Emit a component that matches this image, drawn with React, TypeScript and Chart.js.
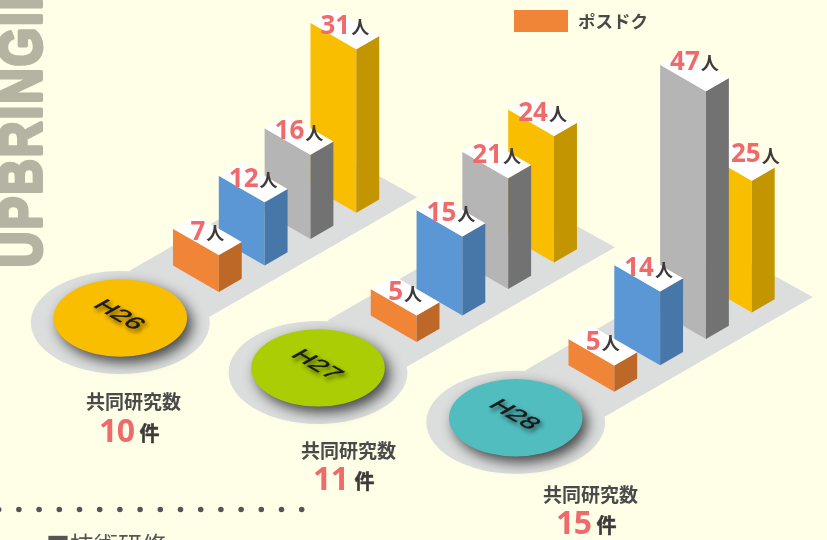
import React, { useEffect, useRef } from "react";
import { Chart, BarController, BarElement, CategoryScale, LinearScale } from "chart.js";

const years = ["H26", "H27", "H28"];
const postdocValues = [7, 5, 5];
const blueValues = [12, 15, 14];
const grayValues = [16, 21, 47];
const yellowValues = [31, 24, 25];
const jointResearchCounts = [10, 11, 15];
const legendLabel = "ポスドク";
const countCaption = "共同研究数";
const countUnit = "件";
const valueUnit = "人";
const watermark = "UPBRINGING";
const footerHeading = "■技術研修";

const BG = "#FFFEE6";
const PLATFORM = "#DCDDDD";
const PINK = "#EF6B6B";
const DARK = "#3E3A39";
const CJK = '"Noto Sans CJK JP", sans-serif';
const LATIN = '"Noto Sans", sans-serif';

const frontColors = ["#F08437", "#5B97D5", "#B4B5B4", "#FABE00"];
const sideColors = ["#BE6828", "#4677A8", "#727272", "#C39500"];
const diskColors = ["#FABE00", "#ABCD03", "#51BDBF"];

const GROUP_DY = 49.9;
const SERIES_DY = 26.45;

// Each year's strip sits lower on the page and each series further back along it.
const groundShift = (datasetIndex: number, dataIndex: number) =>
  GROUP_DY * dataIndex - SERIES_DY * datasetIndex;

class PrismElement extends BarElement {
  static id = "prism";
  draw(ctx: CanvasRenderingContext2D) {
    const self = this as any;
    const { x, y, base, width } = self.getProps(["x", "y", "base", "width"]);
    const shift = groundShift(self.seriesIndex, self.groupIndex);
    const top = y + shift;
    const bottom = base + shift;
    const w = width;
    const r = width / 2;
    const dl = w * 0.5774;
    const dr = r * 0.5774;
    const opts = self.options;
    const poly = (pts: number[][], fill: string) => {
      ctx.beginPath();
      pts.forEach((p, i) => (i ? ctx.lineTo(p[0], p[1]) : ctx.moveTo(p[0], p[1])));
      ctx.closePath();
      ctx.fillStyle = fill;
      ctx.fill();
    };
    ctx.save();
    poly([[x - w, top - dl], [x, top], [x, bottom], [x - w, bottom - dl]], opts.backgroundColor);
    poly([[x, top], [x + r, top - dr], [x + r, bottom - dr], [x, bottom]], opts.borderColor);
    poly([[x, top], [x - w, top - dl], [x - w + r, top - dl - dr], [x + r, top - dr]], "#FFFFFF");
    ctx.restore();
  }
}

class PrismController extends BarController {
  static id = "prism";
  static defaults = { ...(BarController as any).defaults, dataElementType: "prism" };
  updateElements(bars: any[], start: number, count: number, mode: any) {
    (BarController.prototype as any).updateElements.call(this, bars, start, count, mode);
    for (let i = start; i < start + count; i++) {
      bars[i].groupIndex = i;
      bars[i].seriesIndex = (this as any).index;
    }
  }
}

Chart.register(CategoryScale, LinearScale, BarElement, BarController, PrismElement as any, PrismController as any);

const nudgeFor = (ds: number, idx: number) => {
  if (ds === 3 && idx === 2) return [15, -3];
  if (ds === 2 && idx === 2) return [0, -6];
  return [0, 0];
};

const countLayout = [
  { headX: 86, headY: 409, numX: 99, numY: 441.5, unitX: 140, unitY: 441 },
  { headX: 301, headY: 458, numX: 313, numY: 490, unitX: 355, unitY: 489 },
  { headX: 543, headY: 502, numX: 556, numY: 534, unitX: 597, unitY: 533 },
];

const scenery = {
  id: "scenery",
  beforeDatasetsDraw(chart: any) {
    const { ctx, scales } = chart;
    const base = scales.y.getPixelForValue(0);
    ctx.save();

    // rotated watermark
    ctx.save();
    ctx.translate(41, 268);
    ctx.rotate(-Math.PI / 2);
    ctx.scale(0.82, 1);
    ctx.font = '700 60px "Liberation Sans", sans-serif';
    ctx.letterSpacing = "2.5px";
    ctx.fillStyle = "#B5B4A2";
    ctx.strokeStyle = "#B5B4A2";
    ctx.lineWidth = 4;
    ctx.lineJoin = "round";
    ctx.textBaseline = "alphabetic";
    ctx.fillText(watermark, 1, 0);
    ctx.strokeText(watermark, 1, 0);
    ctx.letterSpacing = "0px";
    ctx.restore();

    // dotted rule
    ctx.beginPath();
    ctx.setLineDash([0, 20.2]);
    ctx.lineCap = "round";
    ctx.lineWidth = 5.6;
    ctx.strokeStyle = "#555555";
    ctx.moveTo(-1.3, 509.5);
    ctx.lineTo(303, 509.5);
    ctx.stroke();
    ctx.setLineDash([]);

    // cut-off heading
    ctx.font = `400 24px ${CJK}`;
    ctx.fillStyle = "#555555";
    ctx.textBaseline = "alphabetic";
    ctx.fillText(footerHeading, 46, 554);

    // legend
    const ds0 = chart.data.datasets[0];
    ctx.fillStyle = ds0.backgroundColor;
    ctx.fillRect(514, 10, 54, 22);
    ctx.font = `700 17.5px ${CJK}`;
    ctx.fillStyle = "#4A4A4A";
    ctx.fillText(ds0.label, 578, 28);

    years.forEach((year, j) => {
      const cx = scales.x.getPixelForValue(j);
      const gy = base + j * GROUP_DY;

      // platform
      ctx.fillStyle = PLATFORM;
      ctx.beginPath();
      ctx.moveTo(cx - 158, gy - 21.3);
      ctx.lineTo(cx + 48, gy - 140);
      ctx.lineTo(cx + 129.7, gy - 94.7);
      ctx.lineTo(cx - 78, gy + 24.7);
      ctx.closePath();
      ctx.fill();
      ctx.beginPath();
      ctx.ellipse(cx - 167.3, gy + 30.5, 89.4, 51.5, 0, 0, Math.PI * 2);
      ctx.fill();

      // disk
      ctx.save();
      ctx.shadowColor = "rgba(20,20,20,0.75)";
      ctx.shadowBlur = 13;
      ctx.shadowOffsetX = 5;
      ctx.shadowOffsetY = 6;
      ctx.fillStyle = diskColors[j];
      ctx.beginPath();
      ctx.ellipse(cx - 167.3, gy + 26, 66.8, 38.7, 0, 0, Math.PI * 2);
      ctx.fill();
      ctx.restore();

      // disk label lying on the ground plane
      ctx.save();
      ctx.shadowColor = "rgba(0,0,0,0.5)";
      ctx.shadowBlur = 4;
      ctx.shadowOffsetX = 2;
      ctx.shadowOffsetY = 3;
      ctx.transform(1.0, 0.58, -0.86, 0.5, cx - 169, gy + 23);
      ctx.font = '400 23px "Liberation Sans", sans-serif';
      ctx.fillStyle = "#1A1A1A";
      ctx.strokeStyle = "#1A1A1A";
      ctx.lineWidth = 0.5;
      ctx.textAlign = "center";
      ctx.textBaseline = "middle";
      ctx.fillText(year, 0, 0);
      ctx.strokeText(year, 0, 0);
      ctx.restore();

      // caption + count
      const l = countLayout[j];
      ctx.textAlign = "left";
      ctx.textBaseline = "alphabetic";
      ctx.font = `700 19px ${CJK}`;
      ctx.fillStyle = "#4A4A4A";
      ctx.fillText(countCaption, l.headX, l.headY);
      ctx.font = `700 32px ${LATIN}`;
      ctx.letterSpacing = "-0.5px";
      ctx.fillStyle = PINK;
      ctx.fillText(String(jointResearchCounts[j]), l.numX, l.numY);
      ctx.letterSpacing = "0px";
      ctx.font = `700 20px ${CJK}`;
      ctx.fillStyle = DARK;
      ctx.strokeStyle = DARK;
      ctx.lineWidth = 0.5;
      ctx.fillText(countUnit, l.unitX - 0.5, l.unitY);
      ctx.strokeText(countUnit, l.unitX - 0.5, l.unitY);
    });
    ctx.restore();
  },
  afterDatasetsDraw(chart: any) {
    const { ctx } = chart;
    ctx.save();
    ctx.textBaseline = "alphabetic";
    ctx.textAlign = "left";
    chart.data.datasets.forEach((ds: any, i: number) => {
      chart.getDatasetMeta(i).data.forEach((bar: any, j: number) => {
        const text = String(ds.data[j]);
        const [nx, ny] = nudgeFor(i, j);
        const top = bar.y + groundShift(i, j);
        ctx.font = `700 26px ${LATIN}`;
        const nw = ctx.measureText(text).width;
        ctx.font = `700 18px ${CJK}`;
        const uw = ctx.measureText(valueUnit).width;
        const total = nw + uw + 1;
        const left = bar.x - 11.5 + nx - total / 2;
        const baseline = top - 15.5 + ny;
        ctx.font = `700 26px ${LATIN}`;
        ctx.fillStyle = PINK;
        ctx.fillText(text, left, baseline);
        ctx.font = `700 18px ${CJK}`;
        ctx.fillStyle = DARK;
        ctx.fillText(valueUnit, left + nw + 1, baseline + 0.5);
      });
    });
    ctx.restore();
  },
};

export default function App() {
  const ref = useRef<HTMLCanvasElement>(null);
  useEffect(() => {
    const series = [postdocValues, blueValues, grayValues, yellowValues];
    const chart = new Chart(ref.current as HTMLCanvasElement, {
      type: "prism" as any,
      data: {
        labels: years,
        datasets: series.map((values, i) => ({
          label: i === 0 ? legendLabel : "",
          data: values,
          backgroundColor: frontColors[i],
          borderColor: sideColors[i],
          borderWidth: 0,
          categoryPercentage: 0.927,
          barPercentage: 1,
          clip: false,
        })),
      } as any,
      options: {
        animation: false,
        responsive: false,
        layout: { padding: { left: 188.7, right: 45.1, top: 28.5, bottom: 248 } },
        plugins: { legend: { display: false }, tooltip: { enabled: false } } as any,
        scales: {
          x: { type: "category", display: false, offset: true },
          y: { type: "linear", display: false, min: 0, max: 50 },
        },
      } as any,
      plugins: [scenery],
    });
    return () => chart.destroy();
  }, []);
  return (
    <div style={{ position: "fixed", left: 0, top: 0, width: 827, height: 540, background: BG, overflow: "hidden" }}>
      <canvas ref={ref} width={827} height={540} style={{ display: "block" }} />
    </div>
  );
}
